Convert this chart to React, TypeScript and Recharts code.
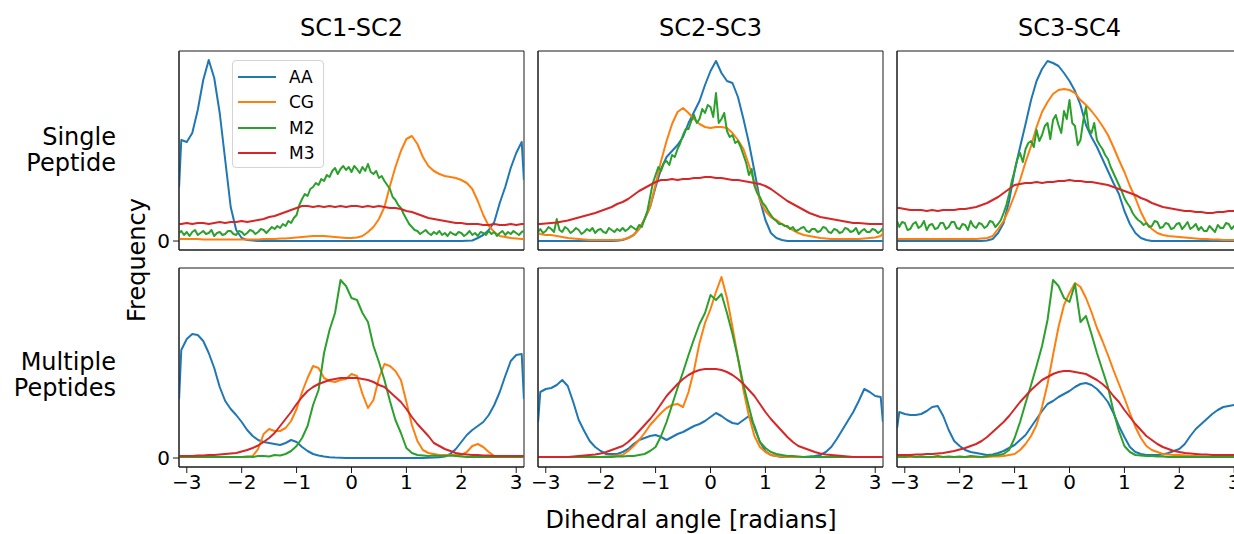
import React from 'react';
import { LineChart, Line, XAxis, YAxis, Legend, ReferenceArea } from 'recharts';

const FONT = '"DejaVu Sans", Verdana, sans-serif';

// x grid (radians)
const angles = [
  -3.14, -3.1, -3.0, -2.9, -2.8, -2.7, -2.6, -2.5, -2.4, -2.3, -2.2,
  -2.1, -2.0, -1.9, -1.8, -1.7, -1.6, -1.5, -1.4, -1.3, -1.2,
  -1.1, -1.0, -0.9, -0.8, -0.7, -0.6, -0.5, -0.4, -0.3, -0.2,
  -0.1, 0.0, 0.1, 0.2, 0.3, 0.4, 0.5, 0.6, 0.7, 0.8,
  0.9, 1.0, 1.1, 1.2, 1.3, 1.4, 1.5, 1.6, 1.7, 1.8,
  1.9, 2.0, 2.1, 2.2, 2.3, 2.4, 2.5, 2.6, 2.7, 2.8,
  2.9, 3.0, 3.1, 3.14,
];

// finer x grid used by the noisy single-peptide M2 traces
const anglesFine = [
  -3.14,
  -3.1, -3.05, -3.0, -2.95, -2.9, -2.85, -2.8, -2.75, -2.7, -2.65,
  -2.6, -2.55, -2.5, -2.45, -2.4, -2.35, -2.3, -2.25, -2.2, -2.15,
  -2.1, -2.05, -2.0, -1.95, -1.9, -1.85, -1.8, -1.75, -1.7, -1.65,
  -1.6, -1.55, -1.5, -1.45, -1.4, -1.35, -1.3, -1.25, -1.2, -1.15,
  -1.1, -1.05, -1.0, -0.95, -0.9, -0.85, -0.8, -0.75, -0.7, -0.65,
  -0.6, -0.55, -0.5, -0.45, -0.4, -0.35, -0.3, -0.25, -0.2, -0.15,
  -0.1, -0.05, 0.0, 0.05, 0.1, 0.15, 0.2, 0.25, 0.3, 0.35,
  0.4, 0.45, 0.5, 0.55, 0.6, 0.65, 0.7, 0.75, 0.8, 0.85,
  0.9, 0.95, 1.0, 1.05, 1.1, 1.15, 1.2, 1.25, 1.3, 1.35,
  1.4, 1.45, 1.5, 1.55, 1.6, 1.65, 1.7, 1.75, 1.8, 1.85,
  1.9, 1.95, 2.0, 2.05, 2.1, 2.15, 2.2, 2.25, 2.3, 2.35,
  2.4, 2.45, 2.5, 2.55, 2.6, 2.65, 2.7, 2.75, 2.8, 2.85,
  2.9, 2.95, 3.0, 3.05, 3.1, 3.14,
];

const seriesNames = ['AA', 'CG', 'M2', 'M3'];
const seriesColors = ['#1f77b4', '#ff7f0e', '#2ca02c', '#d62728'];
const columnTitles = ['SC1-SC2', 'SC2-SC3', 'SC3-SC4'];
const rowLabels = [['Single', 'Peptide'], ['Multiple', 'Peptides']];
const xTicks = [-3, -2, -1, 0, 1, 2, 3];
const yTicks = [0];
const xLabel = 'Dihedral angle [radians]';
const yLabel = 'Frequency';

// ---- Single peptide, SC1-SC2
const sc12SingleAA = [
  54, 101, 99, 108, 131, 161, 181, 163, 128, 81, 34,
  11, 3, 1, 0.5, 0, 0, 0, 0, 0, 0,
  0, 0, 0, 0, 0, 0, 0, 0, 0, 0,
  0, 0, 0, 0, 0, 0, 0, 0, 0, 0,
  0, 0, 0, 0, 0, 0, 0, 0, 0, 0,
  0, 0, 0.3, 0.5, 3, 6, 11, 19, 38, 54,
  73, 88, 99, 61,
];
const sc12SingleCG = [
  2, 2, 2, 2, 2, 1.5, 1.5, 1.5, 1.5, 1.5, 1.5,
  1.5, 1.5, 1.5, 1.5, 1.5, 2, 2, 2, 2.5, 2.5,
  3, 3.5, 4, 4.5, 5, 5, 5, 4.5, 4, 3.5,
  3, 3, 3.5, 5, 9, 14, 22, 34, 55, 74,
  90, 102, 105, 97, 84, 75, 70, 67, 65, 64,
  63, 61, 58, 52, 40, 26, 15, 9, 5, 4,
  3, 2.5, 2, 2,
];
const sc12SingleM2 = [
  8,
  10, 6, 9, 5, 9, 11, 6, 8, 10, 7,
  8, 11, 5, 8, 9, 6, 7, 10, 10, 7,
  6, 10, 9, 6, 8, 11, 10, 7, 9, 12,
  11, 8, 11, 14, 12, 15, 13, 17, 15, 20,
  18, 23, 26, 36, 42, 47, 45, 52, 54, 58,
  56, 62, 60, 66, 64, 70, 73, 67, 72, 75,
  71, 74, 69, 75, 72, 68, 74, 70, 77, 69,
  67, 70, 63, 65, 60, 56, 52, 44, 41, 36,
  33, 27, 22, 17, 14, 11, 10, 7, 9, 11,
  8, 6, 9, 7, 10, 6, 8, 5, 9, 7,
  6, 9, 8, 5, 7, 10, 6, 8, 5, 9,
  8, 6, 10, 7, 9, 5, 8, 10, 6, 9,
  7, 10, 8, 6, 9, 10,
];
const sc12SingleM3 = [
  17, 17, 18, 17, 18, 18, 17, 18, 19, 18, 19,
  19, 20, 19, 20, 21, 22, 24, 25, 27, 29,
  31, 33, 35, 35, 34, 35, 34, 35, 34, 35,
  34, 35, 35, 34, 35, 34, 35, 34, 33, 33,
  32, 30, 29, 27, 25, 23, 22, 21, 20, 19,
  18, 18, 17, 17, 17, 16, 16, 17, 16, 16,
  17, 16, 17, 17,
];

// ---- Single peptide, SC2-SC3
const sc23SingleAA = [
  0, 0, 0, 0, 0, 0, 0, 0, 0, 0, 0,
  0, 0, 0, 0, 0.3, 1, 3, 6, 12, 22,
  34, 54, 72, 84, 90, 96, 104, 118, 129, 140,
  156, 170, 180, 168, 160, 158, 144, 122, 98, 70,
  41, 21, 8, 3, 1, 0, 0, 0, 0, 0,
  0, 0, 0, 0, 0, 0, 0, 0, 0, 0,
  0, 0, 0, 0,
];
const sc23SingleCG = [
  8, 7, 6, 6, 5, 4, 3, 2.5, 2, 1.5, 1,
  1, 1, 1, 1, 1, 1.5, 3, 6, 12, 22,
  34, 57, 80, 100, 117, 129, 133, 128, 122, 117,
  114, 113, 114, 114, 113, 108, 101, 92, 76, 58,
  41, 30, 24, 21, 17, 14, 11, 8, 6, 5,
  4, 3, 2.5, 2, 2, 2, 2, 2, 2, 2.5,
  3, 3.5, 5, 8,
];
const sc23SingleM2 = [
  9,
  12, 8, 10, 14, 12, 9, 22, 11, 9, 14,
  12, 8, 10, 13, 11, 7, 9, 12, 10, 13,
  8, 11, 12, 9, 8, 13, 11, 9, 12, 10,
  13, 10, 12, 15, 13, 11, 16, 14, 22, 30,
  44, 58, 66, 74, 70, 78, 80, 76, 86, 84,
  92, 98, 106, 112, 112, 120, 126, 118, 122, 132,
  128, 136, 134, 124, 148, 118, 122, 128, 110, 104,
  106, 98, 100, 94, 86, 78, 66, 72, 55, 48,
  44, 38, 35, 30, 26, 22, 20, 17, 17, 15,
  15, 12, 14, 10, 11, 13, 14, 10, 9, 12,
  12, 9, 10, 14, 13, 9, 8, 12, 11, 8,
  9, 13, 12, 9, 10, 13, 7, 10, 12, 9,
  9, 12, 11, 8, 10, 13,
];
const sc23SingleM3 = [
  17, 17, 17.5, 18, 18.5, 19.5, 20.5, 22, 23.5, 25, 26.5,
  28, 30, 32, 34, 37, 39, 42, 46, 50, 53,
  56, 59, 61, 61, 62, 61, 62, 62, 63, 63,
  64, 64, 63, 63, 62, 61, 61, 60, 59, 58,
  57, 55, 52, 48, 44, 40, 37, 34, 31, 28,
  26, 24, 23, 22, 21, 20, 19, 18, 18, 17.5,
  17, 17, 17, 17,
];

// ---- Single peptide, SC3-SC4
const sc34SingleAA = [
  0, 0, 0, 0, 0, 0, 0, 0, 0, 0, 0,
  0, 0, 0, 0, 0, 0, 0.5, 2, 8, 18,
  40, 70, 94, 117, 141, 160, 172, 180, 178, 175,
  168, 160, 150, 136, 116, 104, 94, 82, 70, 58,
  47, 30, 17, 8, 3, 1, 0, 0, 0, 0,
  0, 0, 0, 0, 0, 0, 0, 0, 0, 0,
  0, 0, 0, 0,
];
const sc34SingleCG = [
  2, 2, 2, 2, 2, 2, 2, 2, 2, 2, 2,
  2, 2, 2, 2, 2, 2.5, 3, 5, 12, 20,
  32, 46, 61, 79, 95, 114, 129, 139, 147, 151,
  152, 151, 148, 141, 136, 130, 123, 115, 106, 94,
  81, 69, 55, 43, 29, 18, 12, 8, 6, 5,
  4.5, 4, 3.5, 3, 2.5, 2, 2, 1.5, 1.5, 1,
  1, 1, 1, 1,
];
const sc34SingleM2 = [
  20,
  14, 19, 18, 11, 12, 17, 19, 13, 15, 20,
  11, 16, 17, 12, 13, 18, 18, 12, 14, 19,
  19, 13, 12, 17, 16, 11, 20, 15, 13, 18,
  17, 13, 15, 20, 19, 14, 17, 21, 28, 36,
  47, 60, 70, 82, 88, 79, 92, 98, 100, 94,
  111, 100, 106, 115, 118, 102, 121, 126, 116, 108,
  130, 122, 141, 118, 115, 96, 101, 120, 134, 112,
  108, 118, 101, 96, 92, 86, 82, 74, 68, 62,
  56, 50, 43, 38, 34, 28, 24, 21, 19, 16,
  18, 14, 15, 20, 19, 13, 14, 18, 17, 12,
  13, 17, 18, 12, 15, 19, 12, 14, 17, 11,
  14, 10, 10, 15, 12, 9, 16, 13, 13, 18,
  17, 12, 15, 19, 18, 16,
];
const sc34SingleM3 = [
  33, 33, 32, 31, 31, 31, 30, 31, 30, 31, 31,
  31, 32, 32, 33, 34, 36, 38, 41, 44, 48,
  52, 56, 57, 58, 58, 59, 58, 59, 59, 60,
  60, 61, 60, 60, 59, 59, 58, 57, 56, 54,
  52, 50, 48, 46, 43, 41, 38, 36, 34, 33,
  32, 31, 30, 30, 29, 29, 28, 28, 29, 29,
  30, 30, 31, 31,
];

// ---- Multiple peptides, SC1-SC2
const sc12MultiAA = [
  59, 108, 119, 124, 123, 117, 105, 90, 71, 57, 49,
  43, 36, 28, 22, 18, 16, 15, 14, 13, 15,
  18, 16, 11, 7, 4, 2.5, 1.5, 0.8, 0.4, 0.2,
  0, 0, 0, 0, 0, 0, 0, 0, 0, 0,
  0, 0, 0, 0, 0, 0.2, 0.4, 0.8, 1.5, 4,
  9, 16, 23, 28, 32, 36, 43, 53, 66, 82,
  97, 103, 104, 59,
];
const sc12MultiCG = [
  1, 1, 1, 1, 1, 1, 1, 1, 1, 1, 1,
  1, 1, 1, 2, 9, 24, 29, 27, 27, 30,
  37, 49, 66, 80, 92, 90, 80, 77, 76, 78,
  79, 84, 82, 64, 50, 58, 80, 94, 92, 87,
  78, 56, 33, 17, 8, 5, 4, 3, 3, 3,
  3, 3, 6, 12, 14, 11, 6, 2, 1, 1,
  1, 1, 1, 1,
];
const sc12MultiM2 = [
  1, 1, 1, 1, 1, 1, 1, 1, 1, 1, 1,
  1, 1, 1.5, 1, 2, 2, 1.5, 3, 2.5, 4,
  7, 12, 20, 32, 53, 68, 105, 128, 145, 178,
  172, 160, 158, 145, 136, 112, 96, 78, 57, 38,
  25, 10, 5, 3, 2.5, 2, 2.5, 2, 2, 2.5,
  2, 1.5, 1, 1, 1, 1, 1, 1, 1, 1,
  1, 1, 1, 1,
];
const sc12MultiM3 = [
  2, 2, 2, 2, 2.5, 2.5, 3, 3, 3.5, 4, 4.5,
  5, 6.5, 8, 10, 12.5, 16, 20, 25, 32, 39,
  46, 54, 61, 67, 71, 74, 76, 78, 79, 80,
  80, 80, 80, 79, 78, 76, 73, 71, 66, 61,
  56, 49, 41, 34, 28, 22, 15, 12, 9, 7,
  5, 4, 3.5, 3, 3, 2.5, 2.5, 2, 2, 2,
  2, 2, 2, 2,
];

// ---- Multiple peptides, SC2-SC3
const sc23MultiAA = [
  36, 66, 69, 70, 73, 78, 72, 56, 38, 27, 17,
  11, 7, 4, 4, 4, 6, 9, 14, 18, 20,
  22, 23, 21, 18, 21, 24, 26, 29, 32, 34,
  37, 41, 45, 42, 38, 35, 34, 38, 42, 32,
  16, 7, 3, 2, 1, 1, 1, 1, 1, 1.5,
  2, 3, 6, 11, 19, 28, 37, 46, 57, 69,
  66, 62, 61, 36,
];
const sc23MultiCG = [
  1, 1, 1, 1, 1, 1, 1, 1, 1, 1, 1,
  1, 1, 1.5, 2, 2.5, 3, 7, 12, 18, 25,
  33, 39, 45, 50, 53, 54, 51, 66, 88, 115,
  135, 149, 166, 181, 160, 131, 100, 68, 42, 22,
  11, 6, 3, 2, 1.5, 1, 1, 1, 1, 1,
  1, 1, 1, 1, 1, 1, 1, 1, 1, 1,
  1, 1, 1, 1,
];
const sc23MultiM2 = [
  1, 1, 1, 1, 1, 1, 1, 1, 1, 1, 1,
  1, 1, 1, 1, 1.5, 1.5, 2, 2, 3, 4,
  7, 11, 22, 36, 53, 70, 86, 103, 119, 134,
  145, 163, 158, 164, 145, 124, 100, 73, 51, 30,
  16, 10, 6, 4, 3, 2, 2, 1.5, 1, 1,
  1, 1, 1, 1, 1, 1, 1, 1, 1, 1,
  1, 1, 1, 1,
];
const sc23MultiM3 = [
  1, 1, 1, 1, 1, 1, 1, 1.5, 2, 2.5, 3,
  3.5, 4.5, 6, 8, 10, 12, 16, 21, 27, 33,
  39, 46, 54, 62, 68, 74, 79, 83, 86, 88,
  89, 89, 89, 88, 86, 83, 79, 74, 68, 62,
  54, 46, 39, 33, 27, 21, 16, 12, 10, 8,
  6, 4.5, 3.5, 3, 2.5, 2, 1.5, 1, 1, 1,
  1, 1, 1, 1,
];

// ---- Multiple peptides, SC3-SC4
const sc34MultiAA = [
  30, 46, 44, 43, 43, 44, 47, 51, 52, 42, 28,
  17, 12, 8, 6, 5, 4, 3, 3.5, 5, 7,
  10, 13, 18, 23, 31, 39, 47, 54, 57, 61,
  64, 67, 71, 74, 75, 73, 69, 63, 56, 45,
  32, 21, 11, 6, 4, 3, 3, 3, 3.5, 5,
  7, 9, 14, 22, 29, 34, 39, 44, 48, 51,
  52, 53, 53, 46,
];
const sc34MultiCG = [
  1, 1, 1, 1, 1, 1, 1, 1, 1, 1, 1,
  1, 1, 1, 1, 1, 1, 1, 1.5, 1.5, 2,
  3, 4, 8, 14, 22, 33, 51, 74, 103, 131,
  153, 165, 175, 171, 160, 146, 130, 117, 103, 88,
  74, 60, 45, 31, 20, 12, 8, 6, 4, 3.5,
  3, 3, 2.5, 2, 2, 1.5, 1.5, 1, 1, 1,
  1, 1, 1, 1,
];
const sc34MultiM2 = [
  1, 1.5, 1, 2, 1, 1.5, 1, 1, 2, 1, 1.5,
  1, 1.5, 1, 2, 1.5, 1, 2, 2.5, 3, 4,
  8, 20, 36, 55, 73, 92, 112, 138, 178, 172,
  160, 156, 174, 136, 142, 124, 105, 88, 71, 47,
  27, 12, 6, 3, 2.5, 2, 2, 1.5, 1.5, 1,
  1, 1, 1, 1, 1, 1, 1, 1, 1, 1,
  1, 1, 1, 1,
];
const sc34MultiM3 = [
  3, 3, 3, 3, 3.5, 3.5, 4, 4, 4.5, 5, 6,
  7, 8.5, 10, 12, 14, 17, 21, 26, 31, 36,
  42, 49, 56, 62, 68, 73, 78, 81, 84, 86,
  87, 87, 86, 85, 84, 81, 78, 74, 69, 62,
  56, 48, 41, 34, 28, 22, 18, 14, 11, 9,
  7, 6, 5, 4.5, 4, 3.5, 3.5, 3, 3, 3,
  3, 3, 3, 3,
];

const panelSeries = [
  [
    [sc12SingleAA, sc12SingleCG, sc12SingleM2, sc12SingleM3],
    [sc23SingleAA, sc23SingleCG, sc23SingleM2, sc23SingleM3],
    [sc34SingleAA, sc34SingleCG, sc34SingleM2, sc34SingleM3],
  ],
  [
    [sc12MultiAA, sc12MultiCG, sc12MultiM2, sc12MultiM3],
    [sc23MultiAA, sc23MultiCG, sc23MultiM2, sc23MultiM3],
    [sc34MultiAA, sc34MultiCG, sc34MultiM2, sc34MultiM3],
  ],
];

// ---- layout
const PLOT_LEFTS = [179, 538, 897];
const PLOT_TOPS = [51, 268];
const PLOT_W = 345;
const PLOT_H = 199;
const ML = 45;
const MT = 10;
const MR = 10;
const XH = 40;
const Y_DOMAIN: [number, number] = [-9, 190];
const X_DOMAIN: [number, number] = [-Math.PI, Math.PI];
const SPINE = '#1a1a1a';

const fmtTick = (v: number) => (v < 0 ? '\u2212' + Math.abs(v) : String(v));

const renderLegend = (props: any) => {
  const payload = props.payload || [];
  return (
    <div
      style={{
        boxSizing: 'border-box',
        width: 92,
        height: 108,
        border: '1px solid #d4d4d4',
        borderRadius: 4,
        background: 'rgba(255,255,255,0.85)',
        paddingTop: 3,
        fontFamily: FONT,
        fontSize: 17,
        color: '#000',
      }}
    >
      {payload.map((entry: any) => (
        <div
          key={entry.value}
          style={{ height: 25.5, display: 'flex', alignItems: 'center' }}
        >
          <div
            style={{
              marginLeft: 5,
              width: 38,
              height: 2.4,
              background: entry.color,
            }}
          />
          <span style={{ marginLeft: 13, lineHeight: '20px' }}>{entry.value}</span>
        </div>
      ))}
    </div>
  );
};

function Panel({ row, col }: { row: number; col: number }) {
  const values = panelSeries[row][col];
  const data = angles.map((a, i) => {
    const rec: Record<string, number> = { angle: a };
    seriesNames.forEach((n, k) => {
      if (values[k].length === angles.length) rec[n] = values[k][i];
    });
    return rec;
  });
  const chartLeft = PLOT_LEFTS[col] - ML;
  const chartTop = PLOT_TOPS[row] - MT;
  const tickStyle = { fontSize: 20, fill: '#000', fontFamily: FONT };
  return (
    <div style={{ position: 'absolute', left: chartLeft, top: chartTop }}>
      <LineChart
        width={ML + PLOT_W + MR}
        height={MT + PLOT_H + XH}
        data={data}
        margin={{ top: MT, right: MR, bottom: 0, left: 0 }}
      >
        <XAxis
          dataKey="angle"
          type="number"
          domain={X_DOMAIN}
          ticks={xTicks}
          interval={0}
          allowDataOverflow
          height={XH}
          tickSize={6}
          tickMargin={2}
          axisLine={{ stroke: SPINE, strokeWidth: 1 }}
          tickLine={{ stroke: SPINE, strokeWidth: 1 }}
          tick={row === 1 ? tickStyle : false}
          tickFormatter={fmtTick}
        />
        <YAxis
          type="number"
          domain={Y_DOMAIN}
          allowDataOverflow
          ticks={yTicks}
          interval={0}
          width={ML}
          tickSize={6}
          tickMargin={3}
          axisLine={{ stroke: SPINE, strokeWidth: 1 }}
          tickLine={col === 0 ? { stroke: SPINE, strokeWidth: 1 } : false}
          tick={col === 0 ? tickStyle : false}
        />
        <ReferenceArea
          x1={X_DOMAIN[0]}
          x2={X_DOMAIN[1]}
          y1={Y_DOMAIN[0]}
          y2={Y_DOMAIN[1]}
          fill="none"
          fillOpacity={0}
          stroke={SPINE}
          strokeWidth={1}
          strokeOpacity={1}
          ifOverflow="visible"
        />
        {seriesNames.map((n, k) => {
          const own =
            values[k].length === anglesFine.length
              ? anglesFine.map((a, i) => ({ angle: a, [n]: values[k][i] }))
              : undefined;
          return (
            <Line
              key={n}
              data={own}
              dataKey={n}
              name={n}
              type="linear"
              stroke={seriesColors[k]}
              strokeWidth={2}
              strokeLinejoin="round"
              dot={false}
              activeDot={false}
              isAnimationActive={false}
            />
          );
        })}
        {row === 0 && col === 0 ? (
          <Legend
            layout="vertical"
            align="center"
            verticalAlign="middle"
            content={renderLegend}
            wrapperStyle={{ left: 232 - chartLeft, top: 60 - chartTop, width: 92, height: 108 }}
          />
        ) : null}
      </LineChart>
    </div>
  );
}

const textBase: React.CSSProperties = {
  position: 'absolute',
  fontFamily: FONT,
  fontSize: 24,
  color: '#000',
  lineHeight: '26px',
  whiteSpace: 'nowrap',
};

export default function App() {
  return (
    <div
      style={{
        position: 'fixed',
        left: 0,
        top: 0,
        width: 1234,
        height: 534,
        overflow: 'hidden',
        background: '#fff',
      }}
    >
      {columnTitles.map((t, c) => (
        <div
          key={t}
          style={{
            ...textBase,
            left: PLOT_LEFTS[c],
            width: PLOT_W,
            top: 15,
            textAlign: 'center',
          }}
        >
          {t}
        </div>
      ))}
      {rowLabels.map((lines, r) => (
        <div
          key={lines[0]}
          style={{
            ...textBase,
            left: 0,
            width: 116,
            top: r === 0 ? 124 : 349,
            textAlign: 'right',
          }}
        >
          {lines.map((l) => (
            <div key={l}>{l}</div>
          ))}
        </div>
      ))}
      <div
        style={{
          ...textBase,
          left: 137 - 80,
          top: 260 - 13,
          width: 160,
          textAlign: 'center',
          transform: 'rotate(-90deg)',
        }}
      >
        {yLabel}
      </div>
      <div
        style={{
          ...textBase,
          left: 691 - 200,
          width: 400,
          top: 507,
          textAlign: 'center',
        }}
      >
        {xLabel}
      </div>
      {[0, 1].map((r) =>
        [0, 1, 2].map((c) => <Panel key={`${r}-${c}`} row={r} col={c} />)
      )}
    </div>
  );
}
